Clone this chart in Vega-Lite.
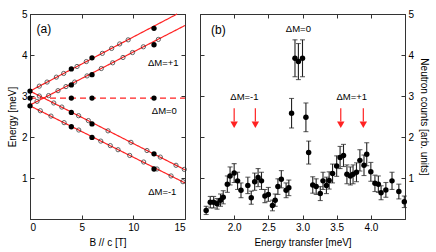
{
  "$schema": "https://vega.github.io/schema/vega-lite/v6.json",
  "padding": {"left": 6, "top": 8, "right": 3, "bottom": 5},
  "spacing": 10,
  "config": {
    "font": "Liberation Sans",
    "view": {"stroke": "#333", "strokeWidth": 1},
    "axis": {"grid": false, "domainColor": "#333", "tickColor": "#333", "tickSize": -4, "labelFontSize": 10, "titleFontSize": 10, "titleFontWeight": "normal", "labelColor": "#000", "titleColor": "#000", "labelPadding": 7, "labelFont": "Liberation Sans", "titleFont": "Liberation Sans"}
  },
  "datasets": {
    "lines": [
      {"id": "L1", "B0": 0, "E0": 3.12, "B1": 14.24, "E1": 5.0, "style": "solid"},
      {"id": "L2", "B0": 0, "E0": 2.78, "B1": 15, "E1": 4.72, "style": "solid"},
      {"id": "L3", "B0": 0, "E0": 3.12, "B1": 15, "E1": 1.2, "style": "solid"},
      {"id": "L4", "B0": 0, "E0": 2.76, "B1": 15, "E1": 0.88, "style": "solid"},
      {"id": "L0", "B0": 0, "E0": 2.95, "B1": 15, "E1": 2.95, "style": "dashed"}
    ],
    "levels": [
      {"B": 0.9, "E": 3.24, "kind": "open"}, {"B": 1.65, "E": 3.34, "kind": "open"}, {"B": 2.55, "E": 3.46, "kind": "open"}, {"B": 3.26, "E": 3.55, "kind": "open"}, {"B": 4.55, "E": 3.72, "kind": "open"}, {"B": 5.45, "E": 3.84, "kind": "open"}, {"B": 7.0, "E": 4.04, "kind": "open"}, {"B": 7.9, "E": 4.16, "kind": "open"}, {"B": 8.68, "E": 4.27, "kind": "open"}, {"B": 9.5, "E": 4.37, "kind": "open"},
      {"B": 0.68, "E": 2.87, "kind": "open"}, {"B": 1.8, "E": 3.01, "kind": "open"}, {"B": 2.71, "E": 3.13, "kind": "open"}, {"B": 3.48, "E": 3.23, "kind": "open"}, {"B": 4.32, "E": 3.34, "kind": "open"}, {"B": 5.52, "E": 3.49, "kind": "open"}, {"B": 6.9, "E": 3.67, "kind": "open"}, {"B": 8.0, "E": 3.81, "kind": "open"}, {"B": 9.0, "E": 3.94, "kind": "open"}, {"B": 9.92, "E": 4.06, "kind": "open"}, {"B": 10.97, "E": 4.2, "kind": "open"}, {"B": 12.42, "E": 4.38, "kind": "open"},
      {"B": 0.9, "E": 3.0, "kind": "open"}, {"B": 2.3, "E": 2.83, "kind": "open"}, {"B": 3.08, "E": 2.73, "kind": "open"}, {"B": 4.7, "E": 2.52, "kind": "open"}, {"B": 5.65, "E": 2.4, "kind": "open"}, {"B": 7.55, "E": 2.15, "kind": "open"}, {"B": 9.77, "E": 1.87, "kind": "open"}, {"B": 11.32, "E": 1.67, "kind": "open"}, {"B": 12.61, "E": 1.51, "kind": "open"}, {"B": 14.13, "E": 1.31, "kind": "open"}, {"B": 14.93, "E": 1.21, "kind": "open"},
      {"B": 1.0, "E": 2.64, "kind": "open"}, {"B": 2.03, "E": 2.51, "kind": "open"}, {"B": 3.3, "E": 2.35, "kind": "open"}, {"B": 4.72, "E": 2.17, "kind": "open"}, {"B": 6.85, "E": 1.9, "kind": "open"}, {"B": 7.77, "E": 1.79, "kind": "open"}, {"B": 8.52, "E": 1.69, "kind": "open"}, {"B": 9.65, "E": 1.55, "kind": "open"}, {"B": 11.0, "E": 1.39, "kind": "open"}, {"B": 12.29, "E": 1.22, "kind": "open"}, {"B": 13.65, "E": 1.05, "kind": "open"}, {"B": 14.8, "E": 0.91, "kind": "open"},
      {"B": 0, "E": 3.12, "kind": "filled"}, {"B": 0, "E": 2.95, "kind": "filled"}, {"B": 0, "E": 2.76, "kind": "filled"},
      {"B": 4, "E": 3.66, "kind": "filled"}, {"B": 4, "E": 3.27, "kind": "filled"}, {"B": 4, "E": 2.95, "kind": "filled"}, {"B": 4, "E": 2.6, "kind": "filled"}, {"B": 4, "E": 2.25, "kind": "filled"},
      {"B": 6, "E": 3.93, "kind": "filled"}, {"B": 6, "E": 3.52, "kind": "filled"}, {"B": 6, "E": 2.95, "kind": "filled"}, {"B": 6, "E": 2.32, "kind": "filled"}, {"B": 6, "E": 1.99, "kind": "filled"},
      {"B": 12, "E": 4.65, "kind": "filled"}, {"B": 12, "E": 4.25, "kind": "filled"}, {"B": 12, "E": 2.95, "kind": "filled"}, {"B": 12, "E": 1.59, "kind": "filled"}, {"B": 12, "E": 1.22, "kind": "filled"}
    ],
    "labelsA": [
      {"x": 1.35, "y": 4.63, "t": "(a)", "big": true},
      {"x": 12.9, "y": 3.8, "t": "ΔM=+1", "big": false},
      {"x": 13.0, "y": 2.63, "t": "ΔM=0", "big": false},
      {"x": 12.8, "y": 0.66, "t": "ΔM=-1", "big": false}
    ],
    "spectrum": [
      {"E": 1.59, "v": 0.21, "err": 0.1}, {"E": 1.65, "v": 0.41, "err": 0.14}, {"E": 1.7, "v": 0.41, "err": 0.14}, {"E": 1.75, "v": 0.37, "err": 0.13}, {"E": 1.8, "v": 0.46, "err": 0.15}, {"E": 1.84, "v": 0.53, "err": 0.16}, {"E": 1.9, "v": 0.85, "err": 0.2}, {"E": 1.94, "v": 1.05, "err": 0.22}, {"E": 2.0, "v": 1.12, "err": 0.23}, {"E": 2.05, "v": 0.93, "err": 0.21}, {"E": 2.1, "v": 0.7, "err": 0.18},
      {"E": 2.2, "v": 0.82, "err": 0.2}, {"E": 2.25, "v": 0.52, "err": 0.16}, {"E": 2.3, "v": 0.91, "err": 0.21}, {"E": 2.35, "v": 1.01, "err": 0.22}, {"E": 2.4, "v": 0.93, "err": 0.21}, {"E": 2.45, "v": 0.56, "err": 0.16}, {"E": 2.5, "v": 0.6, "err": 0.17}, {"E": 2.56, "v": 0.33, "err": 0.13}, {"E": 2.6, "v": 0.46, "err": 0.15}, {"E": 2.64, "v": 0.79, "err": 0.19}, {"E": 2.69, "v": 0.97, "err": 0.21}, {"E": 2.76, "v": 0.7, "err": 0.18}, {"E": 2.8, "v": 0.76, "err": 0.19},
      {"E": 2.84, "v": 2.58, "err": 0.36}, {"E": 2.89, "v": 3.92, "err": 0.45}, {"E": 2.94, "v": 3.84, "err": 0.44}, {"E": 3.0, "v": 3.92, "err": 0.45}, {"E": 3.05, "v": 2.48, "err": 0.35}, {"E": 3.09, "v": 1.62, "err": 0.28},
      {"E": 3.15, "v": 0.83, "err": 0.2}, {"E": 3.2, "v": 0.79, "err": 0.19}, {"E": 3.26, "v": 0.62, "err": 0.17}, {"E": 3.3, "v": 0.93, "err": 0.21}, {"E": 3.35, "v": 0.82, "err": 0.2}, {"E": 3.39, "v": 0.94, "err": 0.21}, {"E": 3.44, "v": 1.11, "err": 0.23}, {"E": 3.5, "v": 1.29, "err": 0.25}, {"E": 3.55, "v": 1.5, "err": 0.27}, {"E": 3.6, "v": 1.55, "err": 0.27}, {"E": 3.65, "v": 1.09, "err": 0.23}, {"E": 3.7, "v": 1.05, "err": 0.22}, {"E": 3.74, "v": 1.09, "err": 0.23}, {"E": 3.79, "v": 1.14, "err": 0.23}, {"E": 3.84, "v": 1.43, "err": 0.26}, {"E": 3.9, "v": 1.31, "err": 0.25}, {"E": 3.94, "v": 1.58, "err": 0.28},
      {"E": 4.0, "v": 1.15, "err": 0.23}, {"E": 4.06, "v": 0.87, "err": 0.2}, {"E": 4.11, "v": 0.85, "err": 0.2}, {"E": 4.15, "v": 0.64, "err": 0.17}, {"E": 4.22, "v": 0.71, "err": 0.18}, {"E": 4.31, "v": 0.93, "err": 0.21}, {"E": 4.41, "v": 0.67, "err": 0.18}, {"E": 4.49, "v": 0.42, "err": 0.14}
    ],
    "arrows": [{"E": 2.0}, {"E": 2.31}, {"E": 3.56}, {"E": 3.89}],
    "labelsB": [
      {"x": 1.77, "y": 4.6, "t": "(b)", "big": true},
      {"x": 2.94, "y": 4.63, "t": "ΔM=0", "big": false},
      {"x": 2.15, "y": 2.98, "t": "ΔM=-1", "big": false},
      {"x": 3.72, "y": 2.98, "t": "ΔM=+1", "big": false}
    ]
  },
  "hconcat": [
    {
      "width": 155,
      "height": 205,
      "resolve": {"axis": {"x": "independent", "y": "independent"}},
      "layer": [
        {
          "data": {"name": "lines"},
          "mark": {"type": "rule", "color": "#f22", "strokeWidth": 1.2},
          "encoding": {
            "x": {"field": "B0", "type": "quantitative", "scale": {"domain": [0, 15], "nice": false}, "axis": {"values": [0, 5, 10, 15], "title": "B // c [T]", "titlePadding": 5}},
            "y": {"field": "E0", "type": "quantitative", "scale": {"domain": [0, 5], "nice": false}, "axis": {"values": [1, 2, 3, 4, 5], "title": "Energy [meV]", "titlePadding": 4}},
            "x2": {"field": "B1"},
            "y2": {"field": "E1"},
            "strokeDash": {"field": "style", "type": "nominal", "scale": {"domain": ["solid", "dashed"], "range": [[1, 0], [6, 4]]}, "legend": null}
          }
        },
        {
          "data": {"name": "levels"},
          "transform": [{"filter": "datum.kind == 'open'"}],
          "mark": {"type": "point", "shape": "circle", "filled": false, "stroke": "#222", "strokeWidth": 1, "size": 18},
          "encoding": {
            "x": {"field": "B", "type": "quantitative", "axis": null},
            "y": {"field": "E", "type": "quantitative", "axis": null}
          }
        },
        {
          "data": {"name": "levels"},
          "transform": [{"filter": "datum.kind == 'filled'"}],
          "mark": {"type": "circle", "color": "#000", "opacity": 1, "size": 28},
          "encoding": {
            "x": {"field": "B", "type": "quantitative", "axis": null},
            "y": {"field": "E", "type": "quantitative", "axis": null}
          }
        },
        {
          "data": {"name": "labelsA"},
          "mark": {"type": "text", "color": "#000", "font": "Liberation Sans"},
          "encoding": {
            "x": {"field": "x", "type": "quantitative", "axis": null},
            "y": {"field": "y", "type": "quantitative", "axis": null},
            "text": {"field": "t"},
            "size": {"field": "big", "type": "nominal", "scale": {"domain": [true, false], "range": [12, 9.5]}, "legend": null}
          }
        },
        {
          "data": {"name": "lines"},
          "mark": {"type": "point", "opacity": 0},
          "encoding": {
            "x": {"field": "B0", "type": "quantitative", "axis": {"orient": "top", "labels": false, "title": null, "values": [0, 5, 10, 15]}},
            "y": {"field": "E0", "type": "quantitative", "axis": {"orient": "right", "labels": false, "title": null, "values": [1, 2, 3, 4, 5]}}
          }
        }
      ]
    },
    {
      "width": 205,
      "height": 205,
      "resolve": {"axis": {"x": "independent", "y": "independent"}},
      "layer": [
        {
          "data": {"name": "spectrum"},
          "mark": {"type": "errorbar", "ticks": {"size": 5, "color": "#222"}, "color": "#222", "thickness": 1.1},
          "encoding": {
            "x": {"field": "E", "type": "quantitative", "scale": {"domain": [1.5, 4.5], "nice": false}, "axis": {"values": [2, 2.5, 3, 3.5, 4], "title": "Energy transfer [meV]", "titlePadding": 5}},
            "y": {"field": "v", "type": "quantitative", "scale": {"domain": [0, 5], "nice": false}, "axis": {"orient": "right", "values": [1, 2, 3, 4, 5], "title": "Neutron counts [arb. units]", "titlePadding": 5}},
            "yError": {"field": "err"}
          }
        },
        {
          "data": {"name": "spectrum"},
          "mark": {"type": "circle", "color": "#000", "opacity": 1, "size": 30},
          "encoding": {
            "x": {"field": "E", "type": "quantitative", "axis": null},
            "y": {"field": "v", "type": "quantitative", "axis": null}
          }
        },
        {
          "data": {"name": "arrows"},
          "mark": {"type": "rule", "color": "#f22", "strokeWidth": 1.2},
          "encoding": {
            "x": {"field": "E", "type": "quantitative", "axis": null},
            "y": {"datum": 2.7, "type": "quantitative", "axis": null},
            "y2": {"datum": 2.38}
          }
        },
        {
          "data": {"name": "arrows"},
          "mark": {"type": "point", "shape": "triangle-down", "filled": true, "color": "#f22", "opacity": 1, "size": 55},
          "encoding": {
            "x": {"field": "E", "type": "quantitative", "axis": null},
            "y": {"datum": 2.3, "type": "quantitative", "axis": null}
          }
        },
        {
          "data": {"name": "labelsB"},
          "mark": {"type": "text", "color": "#000", "font": "Liberation Sans"},
          "encoding": {
            "x": {"field": "x", "type": "quantitative", "axis": null},
            "y": {"field": "y", "type": "quantitative", "axis": null},
            "text": {"field": "t"},
            "size": {"field": "big", "type": "nominal", "scale": {"domain": [true, false], "range": [12, 9.5]}, "legend": null}
          }
        },
        {
          "data": {"name": "spectrum"},
          "mark": {"type": "point", "opacity": 0},
          "encoding": {
            "x": {"field": "E", "type": "quantitative", "axis": {"orient": "top", "labels": false, "title": null, "values": [2, 2.5, 3, 3.5, 4]}},
            "y": {"field": "v", "type": "quantitative", "axis": {"orient": "left", "labels": false, "title": null, "values": [1, 2, 3, 4, 5]}}
          }
        }
      ]
    }
  ]
}
